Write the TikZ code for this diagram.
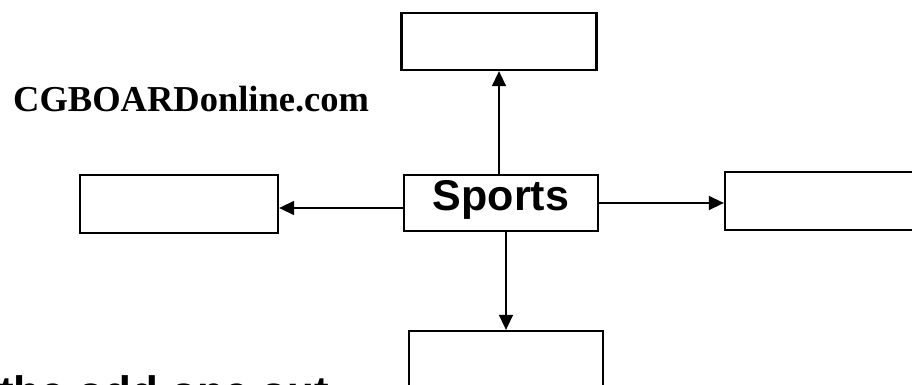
\documentclass[tikz,border=0pt]{standalone}
\usepackage{fontspec}
\setmainfont{Liberation Serif}
\newfontfamily\arialfont{Liberation Sans}
\usetikzlibrary{arrows.meta}
\begin{document}
\begin{tikzpicture}[x=1pt,y=-1pt,
  box/.style={draw=black,line width=2.3pt,rectangle,inner sep=0pt,fill=none},
  conn/.style={draw=black,line width=1.5pt,-{Triangle[length=15pt,width=14pt]}},
  sans/.style={font=\arialfont\bfseries\fontsize{43}{48}\selectfont}]
\useasboundingbox (0,0) rectangle (912,385);
\clip (0,0) rectangle (912,385);
\fill[white] (0,0) rectangle (912,385);
\node[box,minimum width=195pt,minimum height=57pt] (topbox) at (499,41.5) {};
\node[box,minimum width=198pt,minimum height=58pt] (leftbox) at (179,204) {};
\node[box,sans,minimum width=194pt,minimum height=56pt,text height=28pt,text depth=14pt] (sports) at (501,203) {Sports};
\node[box,minimum width=205pt,minimum height=58pt] (rightbox) at (827.5,201) {};
\node[box,minimum width=194pt,minimum height=69pt] (bottombox) at (506,365.5) {};
\node[anchor=base west,inner sep=0pt,font=\bfseries\fontsize{36.5}{42}\selectfont] (site) at (13,112) {CGBOARDonline.com};
\node[anchor=base west,inner sep=0pt,font=\arialfont\bfseries\fontsize{44}{50}\selectfont] (odd) at (-1,407) {the odd one out};
\draw[conn] (sports.north -| topbox.south) -- (topbox.south);
\draw[conn] (sports.west) ++(0,5) coordinate (lw) (lw) -- (lw -| leftbox.east);
\draw[conn] (sports.east) -- (sports.east -| rightbox.west);
\draw[conn] (sports.south -| bottombox.north) -- (bottombox.north);
\end{tikzpicture}
\end{document}
